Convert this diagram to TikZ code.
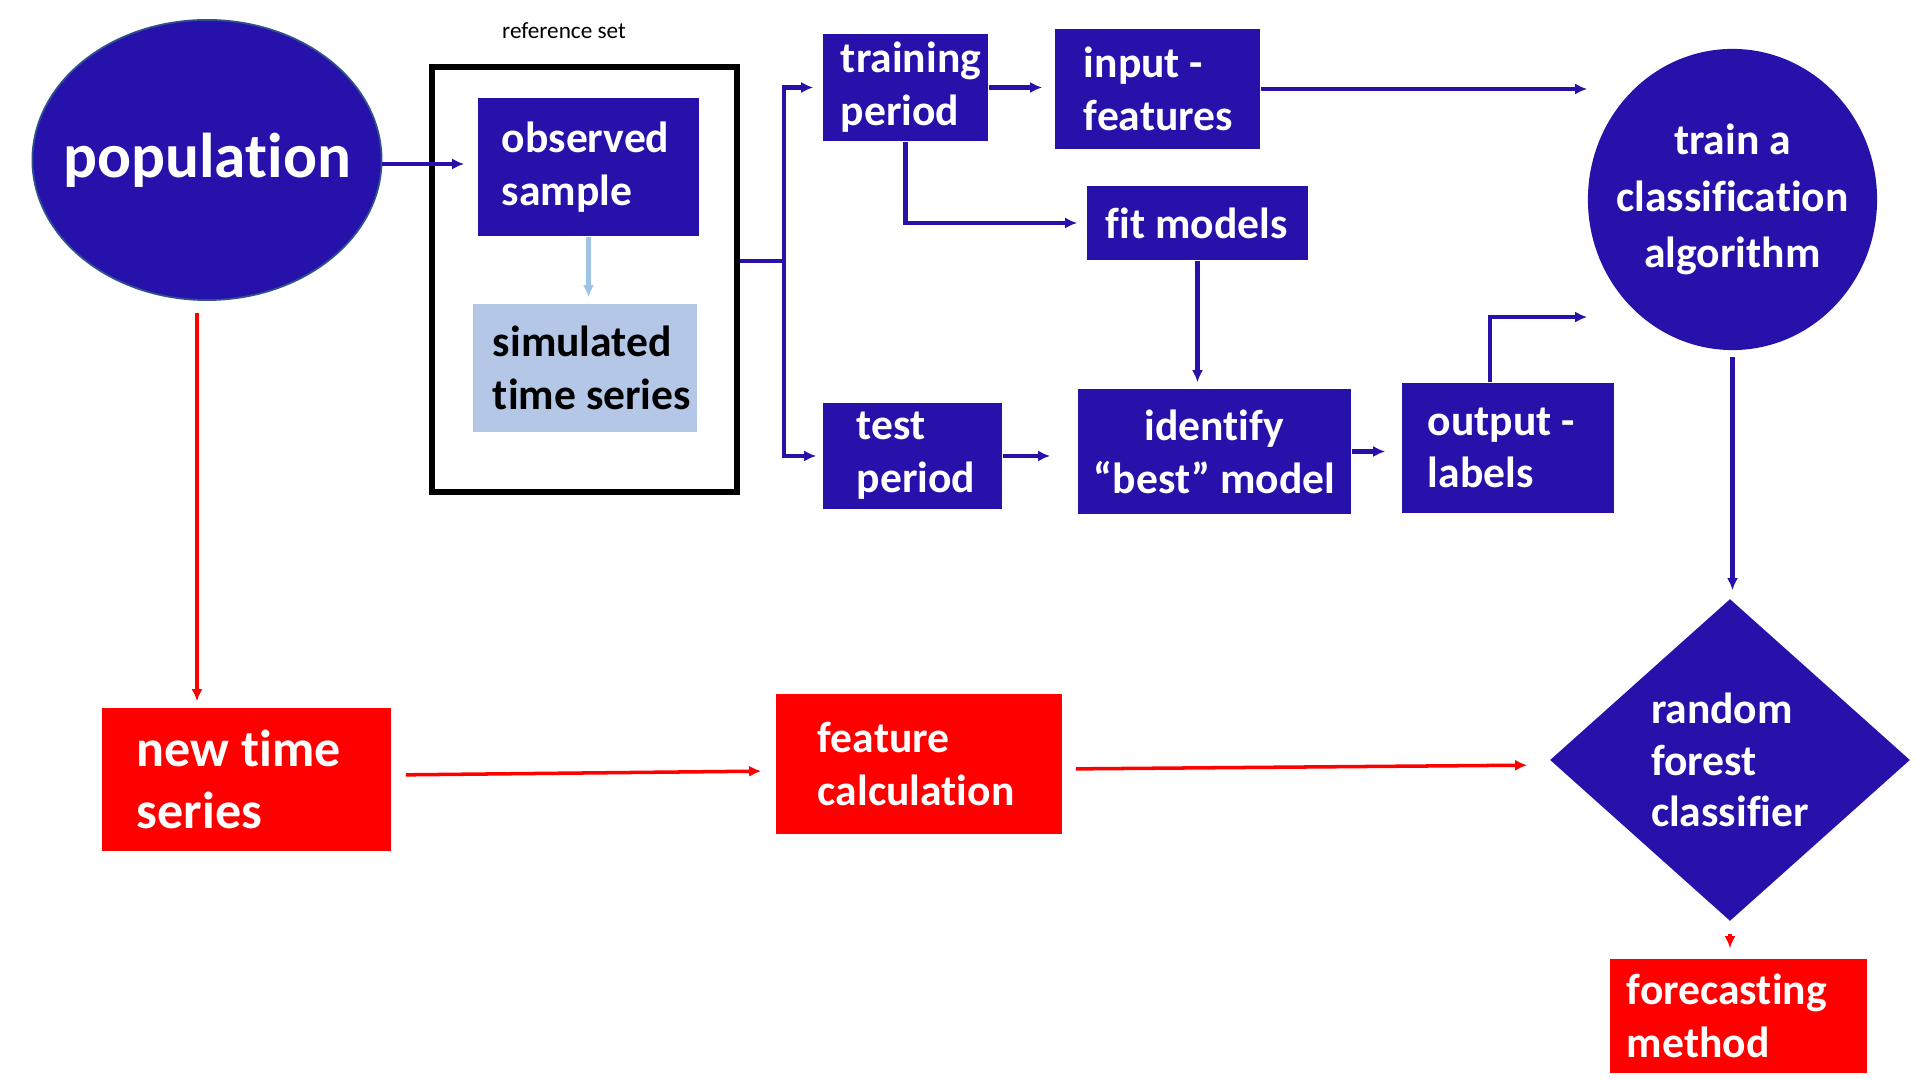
\documentclass[tikz,border=0pt]{standalone}
\usepackage{fontspec}
\setmainfont[Ligatures=NoCommon]{Carlito}
\usetikzlibrary{shapes.geometric, arrows.meta}
\definecolor{flowblue}{RGB}{38,18,170}
\definecolor{paleblue}{RGB}{180,199,231}
\definecolor{arrowblue}{RGB}{157,195,230}
\definecolor{rimblue}{RGB}{47,82,143}
\tikzstyle{block} = [rectangle, fill=flowblue, text=white, align=flush left, inner ysep=0pt, font=\bfseries\fontsize{12.4}{15}\selectfont]
\tikzstyle{redblock} = [block, fill=red]
\tikzstyle{link} = [draw=flowblue, line width=1.2pt, -{Latex[length=0.12cm,width=0.11cm]}]
\tikzstyle{redlink} = [link, draw=red, line width=1pt]

\begin{document}
\begin{tikzpicture}[x=0.01cm, y=-0.01cm]

\path[use as bounding box, fill=white] (0,0) rectangle (1920,1080);

% Population
\node[ellipse, fill=flowblue, draw=rimblue, line width=0.5pt, minimum width=3.49cm, minimum height=2.80cm, inner xsep=-0.4cm, inner ysep=0pt, text=white, font=\bfseries\fontsize{18}{22}\selectfont] (pop) at (207,160) {population};

% Reference set
\node[font=\fontsize{6.6}{8}\selectfont] (reflabel) at (564,31) {reference set};
\node[draw, line width=1.5pt, minimum width=3.05cm, minimum height=4.25cm] (refset) at (584.5,279.5) {};
\node[block, minimum height=1.38cm, text width=1.73cm, inner xsep=0.24cm] (obs) at (588.5,167) {observed\\sample};
\node[block, fill=paleblue, text=black, minimum height=1.28cm, text width=1.84cm, inner xsep=0.20cm] (sim) at (585,368) {simulated\\\mbox{time series}};

% Training and test periods
\node[block, minimum height=1.07cm, text width=1.29cm, inner xsep=0.18cm] (trn) at (905.5,87.5) {training\\period};
\node[block, minimum height=1.06cm, text width=1.11cm, inner xsep=0.34cm] (tst) at (912.5,456) {test\\period};

% Features, models, labels
\node[block, minimum height=1.20cm, text width=1.47cm, inner xsep=0.29cm] (inp) at (1157.5,89) {\mbox{input -}\\features};
\node[block, minimum height=0.74cm, text width=1.83cm, inner xsep=0.19cm] (fit) at (1197.5,223) {\mbox{fit models}};
\node[block, align=flush center, minimum height=1.25cm, text width=2.53cm, inner xsep=0.10cm] (idf) at (1214.5,451.5) {identify\\\mbox{``best'' model}};
\node[block, minimum height=1.30cm, text width=1.60cm, inner xsep=0.26cm] (out) at (1508,448) {\mbox{output -}\\labels};

% Classifier
\node[ellipse, fill=flowblue, minimum width=2.89cm, minimum height=3.01cm, inner xsep=-0.3cm, inner ysep=0pt, text=white, align=center, font=\bfseries\fontsize{12.4}{16}\selectfont] (clf) at (1732.5,199.5) {train a\\classification\\algorithm};
\node[diamond, fill=flowblue, minimum width=3.60cm, minimum height=3.22cm, inner sep=0pt, text=white, align=left, font=\bfseries\fontsize{12.4}{14.6}\selectfont] (rfc) at (1730,760) {random\\forest\\classifier};

% New series
\node[redblock, minimum height=1.43cm, text width=2.19cm, inner xsep=0.35cm, font=\bfseries\fontsize{14.8}{17.8}\selectfont] (nts) at (246.5,779.5) {\mbox{new time}\\series};
\node[redblock, minimum height=1.40cm, text width=2.02cm, inner xsep=0.42cm] (feat) at (919,764) {feature\\calculation};
\node[redblock, minimum height=1.14cm, text width=2.23cm, inner xsep=0.17cm] (fcm) at (1738.5,1016) {forecasting\\method};

% Connectors
\coordinate (branch) at (784,261);
\draw[link, shorten >=0.13cm] ([yshift=-0.04cm]pop.east) -- ([yshift=-0.04cm]pop.east -| obs.west);
\draw[link, draw=arrowblue, shorten >=0.06cm] (obs.south) -- (obs.south |- sim.north);
\draw[draw=flowblue, line width=1.2pt] (refset.east |- branch) -- (branch);
\draw[link, shorten >=0.09cm] (branch) |- (trn.west);
\draw[link, shorten >=0.06cm] (branch) |- (tst.west);
\draw[link, shorten >=0.12cm] (trn.east) -- (trn.east -| inp.west);
\draw[link] (inp.east) -- (inp.east -| clf.west);
\draw[link, shorten >=0.09cm] (trn.south) |- (fit.west);
\draw[link, shorten >=0.06cm] (fit.south) -- (fit.south |- idf.north);
\draw[link, shorten >=0.27cm] (tst.east) -- (tst.east -| idf.west);
\draw[link, shorten >=0.16cm] (idf.east) -- (idf.east -| out.west);
\draw[link] ([xshift=-0.18cm]out.north) |- ([yshift=-1.175cm]clf.west);
\draw[link, shorten <=0.06cm, shorten >=0.08cm] (clf.south) -- (clf.south |- rfc.north);
\draw[redlink, shorten <=0.12cm, shorten >=0.10cm] (rfc.south) -- (rfc.south |- fcm.north);
\draw[redlink, shorten <=0.12cm, shorten >=0.06cm] ([xshift=-0.1cm]pop.south) -- ([xshift=-0.1cm]pop.south |- nts.north);
\draw[redlink, shorten <=0.14cm, shorten >=0.14cm] ([yshift=0.045cm]nts.east) -- ([yshift=-0.07cm]feat.west);
\draw[redlink, shorten <=0.13cm, shorten >=0.22cm] ([yshift=-0.05cm]feat.east) -- ([yshift=-0.05cm]rfc.west);

\end{tikzpicture}
\end{document}
